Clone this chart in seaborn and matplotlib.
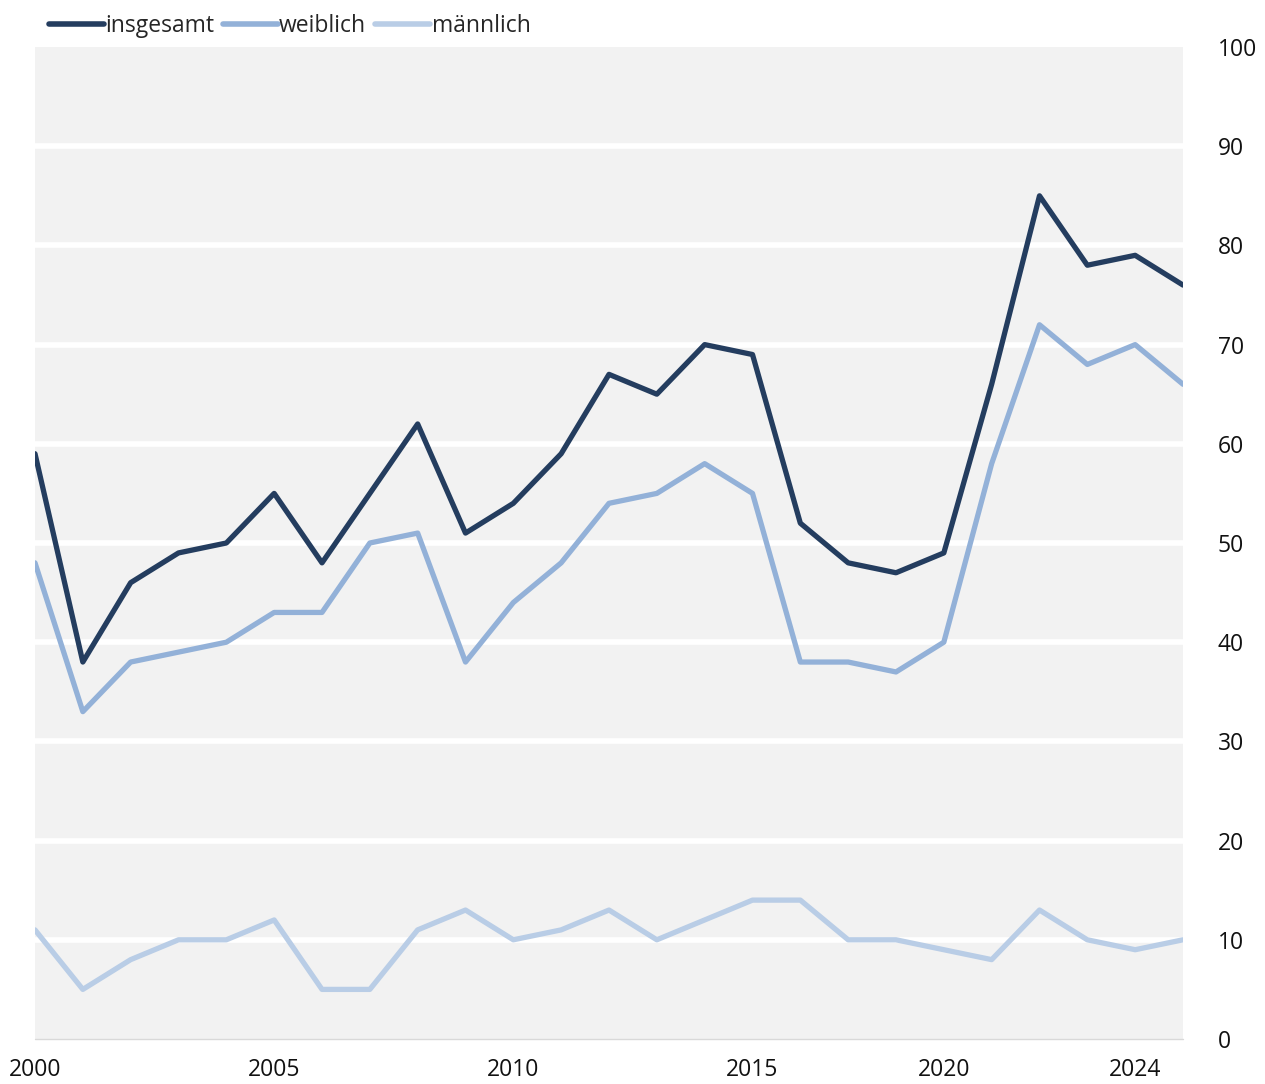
import pandas as pd
import matplotlib.pyplot as plt
import seaborn as sns

# values, one per category position (one year is not shown on the axis)
positions = list(range(25))
insgesamt = [59, 38, 46, 49, 50, 55, 48, 55, 62, 51, 54, 59, 67, 65, 70, 69,
             52, 48, 47, 49, 66, 85, 78, 79, 76]
weiblich = [48, 33, 38, 39, 40, 43, 43, 50, 51, 38, 44, 48, 54, 55, 58, 55,
            38, 38, 37, 40, 58, 72, 68, 70, 66]
maennlich = [11, 5, 8, 10, 10, 12, 5, 5, 11, 13, 10, 11, 13, 10, 12, 14,
             14, 10, 10, 9, 8, 13, 10, 9, 10]
tick_pos = [0, 5, 10, 15, 19, 23]
tick_labels = ["2000", "2005", "2010", "2015", "2020", "2024"]
series_names = ["insgesamt", "weiblich", "männlich"]
colors = ["#243d5f", "#93b1d8", "#b9cde6"]

df = pd.DataFrame({"pos": positions, "insgesamt": insgesamt,
                   "weiblich": weiblich, "männlich": maennlich})
long = df.melt(id_vars="pos", var_name="Gruppe", value_name="Wert")

sns.set_theme(style="white")
plt.rcParams["font.family"] = ["Open Sans", "DejaVu Sans"]

fig = plt.figure(figsize=(12.65, 10.84), dpi=100)
ax = fig.add_axes([35 / 1265, 1 - 1039 / 1084, 1148 / 1265, 992 / 1084])
ax.set_facecolor("#f2f2f2")

sns.lineplot(data=long, x="pos", y="Wert", hue="Gruppe",
             hue_order=series_names, palette=colors, linewidth=3.8,
             ax=ax, legend=False, zorder=3)

ax.set_xlim(0, 24)
ax.set_ylim(0, 100)
ax.set_yticks(range(0, 101, 10))
ax.yaxis.tick_right()
ax.tick_params(axis="y", length=0, pad=25, labelsize=16.5, labelcolor="#111111")
ax.set_xticks(positions, minor=True)
ax.set_xticks(tick_pos)
ax.set_xticklabels(tick_labels)
ax.tick_params(axis="x", which="both", length=6, width=1, color="#d9d9d9",
               labelsize=16.5, labelcolor="#111111", pad=8)
for y in range(10, 100, 10):
    ax.axhline(y, color="white", linewidth=4, zorder=2)
for s in ax.spines.values():
    s.set_visible(False)
ax.axhline(0, color="#d9d9d9", linewidth=1, zorder=4, clip_on=False)
ax.set_xlabel("")
ax.set_ylabel("")

handles = [plt.Line2D([], [], color=c, linewidth=4, solid_capstyle="round")
           for c in colors]
fig.legend(handles, series_names, loc="upper left", ncol=3, frameon=False,
           bbox_to_anchor=(35 / 1265, 1.0), fontsize=16.5, handlelength=2.4,
           handletextpad=0.05, columnspacing=0.4, borderaxespad=0.2)

fig.savefig("out.png", dpi=100)
